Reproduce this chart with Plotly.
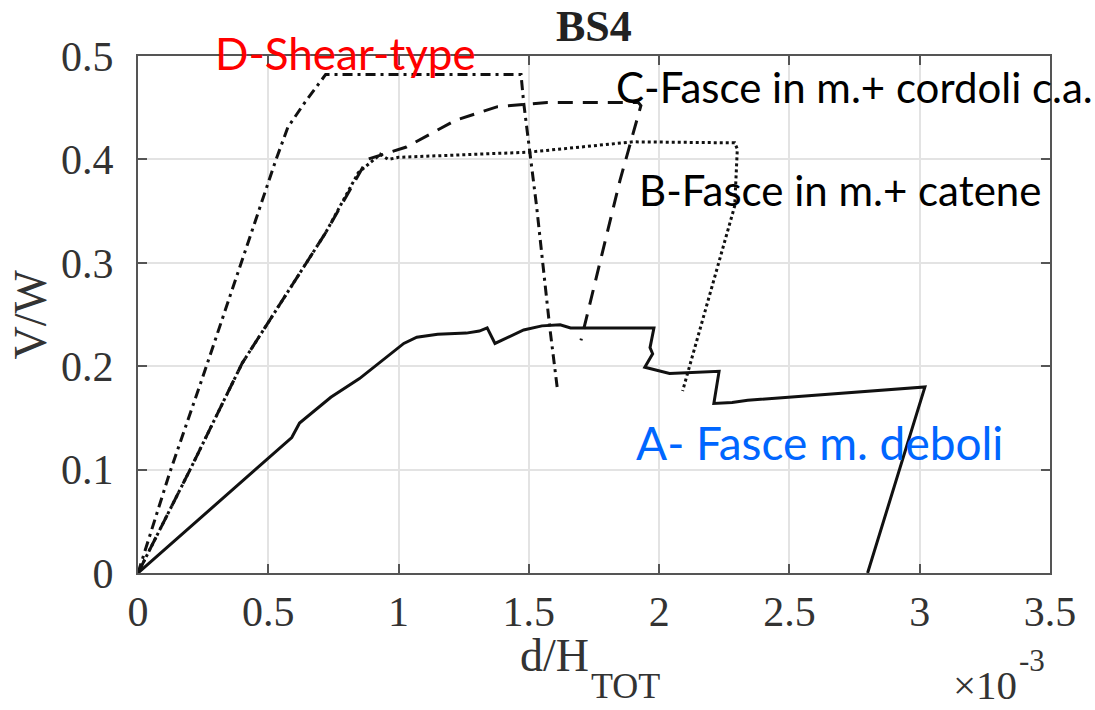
import plotly.graph_objects as go

# ---- data (d/H_TOT in 1e-3, V/W) ----
a_x = [0, 0.59, 0.62, 0.74, 0.85, 1.02, 1.07, 1.15, 1.26, 1.31, 1.34, 1.37, 1.48, 1.55, 1.62, 1.66, 1.94, 1.98,
       1.965, 1.975, 1.945, 2.04, 2.23, 2.21, 2.28, 2.34, 3.02, 2.80]
a_y = [0, 0.131, 0.145, 0.170, 0.188, 0.222, 0.228, 0.231, 0.232, 0.234, 0.237, 0.222, 0.235, 0.239, 0.240, 0.237,
       0.237, 0.237, 0.218, 0.212, 0.199, 0.193, 0.195, 0.164, 0.165, 0.167, 0.180, 0.0]

b_x = [0, 0.2, 0.4, 0.72, 0.845, 0.93, 0.96, 1.0, 1.5, 1.9, 2.29, 2.30, 2.29, 2.09]
b_y = [0, 0.1, 0.203, 0.329, 0.387, 0.405, 0.400, 0.402, 0.407, 0.417, 0.416, 0.41, 0.355, 0.176]

c_x = [0, 0.2, 0.4, 0.72, 0.88, 1.03, 1.22, 1.38, 1.57, 1.92, 1.93, 1.85, 1.70]
c_y = [0, 0.1, 0.203, 0.329, 0.400, 0.412, 0.438, 0.451, 0.455, 0.455, 0.452, 0.38, 0.225]

d_x = [0, 0.123, 0.245, 0.437, 0.53, 0.575, 0.64, 0.72, 1.47, 1.48, 1.53, 1.58, 1.61]
d_y = [0, 0.098, 0.187, 0.332, 0.400, 0.431, 0.455, 0.482, 0.482, 0.455, 0.354, 0.238, 0.177]

x_ticks = [0, 0.5, 1, 1.5, 2, 2.5, 3, 3.5]
x_tick_labels = ["0", "0.5", "1", "1.5", "2", "2.5", "3", "3.5"]
y_ticks = [0, 0.1, 0.2, 0.3, 0.4, 0.5]
y_tick_labels = ["0", "0.1", "0.2", "0.3", "0.4", "0.5"]

title_text = "BS4"
label_a = "A- Fasce m. deboli"
label_b = "B-Fasce in m.+ catene"
label_c = "C-Fasce in m.+ cordoli c.a."
label_d = "D-Shear-type"

fig = go.Figure()
line_col = "#111111"
fig.add_trace(go.Scatter(x=a_x, y=a_y, mode="lines", line=dict(color=line_col, width=3), showlegend=False))
fig.add_trace(go.Scatter(x=b_x, y=b_y, mode="lines", line=dict(color=line_col, width=3, dash="3px,3px"), showlegend=False))
fig.add_trace(go.Scatter(x=c_x, y=c_y, mode="lines", line=dict(color=line_col, width=3, dash="15px,10px"), showlegend=False))
fig.add_trace(go.Scatter(x=d_x, y=d_y, mode="lines", line=dict(color=line_col, width=3, dash="10px,5px,3px,5px"), showlegend=False))

serif = "Liberation Serif, Times New Roman, serif"
sans = "Lato, Carlito, Calibri, sans-serif"
tick_font = dict(family=serif, size=42, color="#333333")

axis_common = dict(
    showgrid=True, gridcolor="#e3e3e3", gridwidth=1.5,
    showline=True, linecolor="#555555", linewidth=2, mirror="ticks",
    ticks="inside", ticklen=9, tickwidth=1.5, tickcolor="#555555",
    zeroline=False, tickfont=tick_font, automargin=False,
)
fig.update_xaxes(range=[0, 3.5], tickvals=x_ticks, ticktext=x_tick_labels, ticklabelstandoff=1, **axis_common)
fig.update_yaxes(range=[0, 0.5], tickvals=y_ticks, ticktext=y_tick_labels, ticklabelstandoff=14, **axis_common)

L, R, T, B = 138, 45, 56, 137
W, H = 1095, 710
pw, ph = W - L - R, H - T - B

def px(xp):
    return (xp - L) / pw

def py(yp):
    return (H - B - yp) / ph

txt = "#333333"
anns = [
    dict(text="<b>" + title_text + "</b>", x=0.5, y=py(27), xanchor="center", yanchor="middle",
         font=dict(family=serif, size=44, color="#222222")),
    dict(text="d/H", x=px(591), y=py(655), xanchor="right", yanchor="middle",
         font=dict(family=serif, size=46, color=txt)),
    dict(text="TOT", x=px(589), y=py(686), xanchor="left", yanchor="middle",
         font=dict(family=serif, size=36, color=txt)),
    dict(text="\u00d710", x=px(1019), y=py(685), xanchor="right", yanchor="middle",
         font=dict(family=serif, size=41, color=txt)),
    dict(text="-3", x=px(1017), y=py(660), xanchor="left", yanchor="middle",
         font=dict(family=serif, size=31, color=txt)),
    dict(text="V/W", x=px(30), y=0.5, xanchor="center", yanchor="middle", textangle=-90,
         font=dict(family=serif, size=46, color=txt)),
    dict(text=label_d, x=px(213), y=py(53), xanchor="left", yanchor="middle",
         font=dict(family=sans, size=44, color="#FF0000")),
    dict(text=label_c, x=px(614), y=py(87), xanchor="left", yanchor="middle",
         font=dict(family=sans, size=42, color="#000000")),
    dict(text=label_b, x=px(637), y=py(190), xanchor="left", yanchor="middle",
         font=dict(family=sans, size=42, color="#000000")),
    dict(text=label_a, x=px(634), y=py(443), xanchor="left", yanchor="middle",
         font=dict(family=sans, size=46, color="#0066FF")),
]
for a in anns:
    a.update(xref="paper", yref="paper", showarrow=False)
fig.update_layout(annotations=anns)

fig.update_layout(
    width=W, height=H, autosize=False,
    margin=dict(l=L, r=R, t=T, b=B),
    paper_bgcolor="white", plot_bgcolor="white",
)
fig.write_html("out.html", config={"displayModeBar": False},
               post_script="document.body.style.margin='0px';document.body.style.overflow='hidden';")
